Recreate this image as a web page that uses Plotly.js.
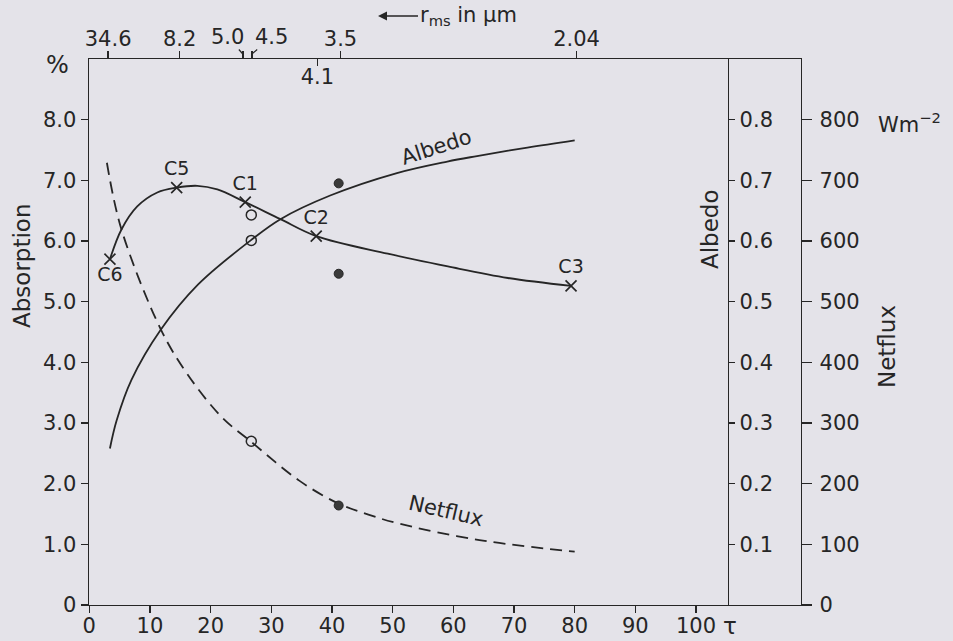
<!DOCTYPE html>
<html>
<head>
<meta charset="utf-8">
<script src="https://cdn.plot.ly/plotly-3.0.1.min.js"></script>
<style>
  html, body { margin: 0; padding: 0; background: #e4e3e9; }
  #chart { width: 953px; height: 641px; }
</style>
</head>
<body>
<div id="chart"></div>
<script>
// ---- data ----
// Absorption (%) curve vs optical depth tau
const absTau = [3.4, 5.3, 7.9, 11.2, 14.4, 17.8, 21.1, 25.7, 31.5, 37.4, 49.2, 59.1, 69.0, 79.4];
const absVal = [5.70, 6.19, 6.57, 6.80, 6.88, 6.91, 6.85, 6.64, 6.36, 6.08, 5.79, 5.58, 5.39, 5.26];
// Named cases on the absorption curve
const caseNames = ["C6", "C5", "C1", "C2", "C3"];
const caseTau = [3.4, 14.4, 25.7, 37.4, 79.4];
const caseAbs = [5.70, 6.88, 6.64, 6.08, 5.26];
const caseTextPos = ["bottom center", "top center", "top center", "top center", "top center"];
// Albedo curve
const albTau = [3.4, 4.5, 6.95, 11.8, 17.9, 26.6, 31.5, 39.7, 50.7, 59.0, 63.9, 72.2, 80.0];
const albVal = [0.258, 0.304, 0.371, 0.454, 0.528, 0.601, 0.636, 0.675, 0.712, 0.731, 0.740, 0.754, 0.766];
// Netflux curve (W m^-2)
const netTau = [2.9, 5.3, 11.8, 16.2, 21.8, 26.8, 34.6, 40.9, 46.0, 51.1, 64.3, 80.0];
const netVal = [729, 619, 454, 380, 310, 268, 205, 168, 149, 134, 107, 88];
// Extra computed points: open circles (r_ms 4.5) and filled dots (r_ms 3.5)
const openTau = 26.7;
const openAbs = 6.43, openAlb = 0.601, openNet = 270;
const fillTau = 41.1;
const fillAbs = 5.46, fillAlb = 0.695, fillNet = 164;
// Axis ticks
const tauTicks = [0, 10, 20, 30, 40, 50, 60, 70, 80, 90, 100];
const absTicks = [0, 1, 2, 3, 4, 5, 6, 7, 8];
const absTickText = ["0", "1.0", "2.0", "3.0", "4.0", "5.0", "6.0", "7.0", "8.0"];
const albTicks = [0.1, 0.2, 0.3, 0.4, 0.5, 0.6, 0.7, 0.8];
const albTickText = ["0.1", "0.2", "0.3", "0.4", "0.5", "0.6", "0.7", "0.8"];
const netTicks = [0, 100, 200, 300, 400, 500, 600, 700, 800];
// Top axis: r_ms (µm) marked at tau positions
const rTickTau = [3.1, 14.9, 25.3, 26.8, 41.4, 80.3];
const rLabelTau = [3.1, 14.9, 41.4, 80.3];
const rLabelText = ["34.6", "8.2", "3.5", "2.04"];
const rInnerTau = [37.6];
const rInnerText = ["4.1"];
const rOffsetLabels = ["5.0", "4.5"];
const rOffsetTickTau = [25.3, 26.8];

// ---- styling ----
const INK = "#262626";
const BG = "#e4e3e9";
const FONT = "DejaVu Sans, Liberation Sans, sans-serif";

const openMarker = { symbol: "circle-open", size: 10, color: INK, line: { width: 1.5, color: INK } };
const fillMarker = { symbol: "circle", size: 9, color: "#3a3a3a", line: { width: 1, color: INK } };

const traces = [
  { x: absTau, y: absVal, mode: "lines", line: { color: INK, width: 1.8, shape: "spline" },
    xaxis: "x", yaxis: "y", hoverinfo: "skip" },
  { x: albTau, y: albVal, mode: "lines", line: { color: INK, width: 1.8, shape: "spline" },
    xaxis: "x", yaxis: "y2", hoverinfo: "skip" },
  { x: netTau, y: netVal, mode: "lines", line: { color: INK, width: 1.8, shape: "spline", dash: "12px,7px" },
    xaxis: "x", yaxis: "y3", hoverinfo: "skip" },
  { x: caseTau, y: caseAbs, mode: "markers+text", text: caseNames, textposition: caseTextPos,
    textfont: { family: FONT, size: 19, color: INK },
    marker: { symbol: "x-thin-open", size: 11, color: INK, line: { color: INK, width: 1.7 } },
    xaxis: "x", yaxis: "y", cliponaxis: false },
  { x: [openTau], y: [openAbs], mode: "markers", marker: openMarker, xaxis: "x", yaxis: "y" },
  { x: [openTau], y: [openAlb], mode: "markers", marker: openMarker, xaxis: "x", yaxis: "y2" },
  { x: [openTau], y: [openNet], mode: "markers", marker: openMarker, xaxis: "x", yaxis: "y3" },
  { x: [fillTau], y: [fillAbs], mode: "markers", marker: fillMarker, xaxis: "x", yaxis: "y" },
  { x: [fillTau], y: [fillAlb], mode: "markers", marker: fillMarker, xaxis: "x", yaxis: "y2" },
  { x: [fillTau], y: [fillNet], mode: "markers", marker: fillMarker, xaxis: "x", yaxis: "y3" }
];

const tfont = { family: FONT, size: 21, color: INK };
const common = { showgrid: false, zeroline: false, showline: true, linecolor: INK, linewidth: 1.4,
  tickcolor: INK, tickwidth: 1.4, tickfont: tfont, fixedrange: true };

const XR = [-0.05, 117.3];
const px2paperX = p => (p - 89) / 712;
const px2paperY = p => (605 - p) / 546;

const annotations = [
  { text: "Absorption", xref: "paper", yref: "paper", x: px2paperX(22), y: px2paperY(266), textangle: -90,
    xanchor: "center", yanchor: "middle", showarrow: false, font: { family: FONT, size: 23, color: INK } },
  { text: "%", xref: "paper", yref: "paper", x: px2paperX(57), y: px2paperY(65),
    xanchor: "center", yanchor: "middle", showarrow: false, font: { family: FONT, size: 24, color: INK } },
  { text: "Albedo", xref: "paper", yref: "paper", x: px2paperX(710), y: px2paperY(229), textangle: -90,
    xanchor: "center", yanchor: "middle", showarrow: false, font: { family: FONT, size: 23, color: INK } },
  { text: "Netflux", xref: "paper", yref: "paper", x: px2paperX(887), y: px2paperY(347), textangle: -90,
    xanchor: "center", yanchor: "middle", showarrow: false, font: { family: FONT, size: 23, color: INK } },
  { text: "Wm<sup>−2</sup>", xref: "paper", yref: "y3", x: px2paperX(876), y: 800, xanchor: "left", yanchor: "middle",
    yshift: -3, showarrow: false, font: { family: FONT, size: 21, color: INK } },
  // r_ms label with a leftward arrow
  { text: "r<sub>ms</sub> in µm", xref: "paper", yref: "paper", x: px2paperX(378), y: px2paperY(16),
    ax: 90, ay: 0, showarrow: true, arrowhead: 2, arrowsize: 1.2, arrowwidth: 1.5, arrowcolor: INK,
    standoff: 0, font: { family: FONT, size: 21, color: INK } },
  { text: "τ", xref: "x", yref: "paper", x: 105.6, y: px2paperY(626), xanchor: "center", yanchor: "middle",
    showarrow: false, font: { family: FONT, size: 23, color: INK } },
  { text: "Albedo", xref: "x", yref: "y", x: 57.3, y: 7.55, textangle: -18, xanchor: "center", yanchor: "middle",
    showarrow: false, font: { family: FONT, size: 21, color: INK } },
  { text: "Netflux", xref: "x", yref: "y", x: 58.8, y: 1.55, textangle: 13, xanchor: "center", yanchor: "middle",
    showarrow: false, font: { family: FONT, size: 21, color: INK } }
];
// r_ms labels that sit beside their ticks, joined by short leader lines
const offsetAx = [-15, 20];
for (let i = 0; i < rOffsetLabels.length; i++) {
  annotations.push({ text: rOffsetLabels[i], xref: "x", yref: "paper", x: rOffsetTickTau[i], y: 1, yshift: 5,
    ax: offsetAx[i], ay: -17, showarrow: true, arrowhead: 0, arrowwidth: 1.2, arrowcolor: INK, standoff: 0,
    borderpad: 0, font: { family: FONT, size: 21, color: INK } });
}

const layout = {
  width: 953, height: 641,
  margin: { l: 89, r: 152, t: 59, b: 36, pad: 0 },
  paper_bgcolor: BG, plot_bgcolor: BG,
  showlegend: false,
  font: { family: FONT, color: INK },
  xaxis: Object.assign({}, common, { range: XR, tickvals: tauTicks, ticks: "outside", ticklen: 7,
    showticklabels: false, anchor: "y", side: "bottom" }),
  xaxis4: Object.assign({}, common, { range: XR, tickvals: tauTicks, ticks: "", showline: false,
    ticklabelstandoff: 6, overlaying: "x", side: "bottom", anchor: "y" }),
  xaxis2: Object.assign({}, common, { range: XR, tickvals: rTickTau, ticks: "outside", ticklen: 7,
    showticklabels: false, overlaying: "x", side: "top", anchor: "y" }),
  xaxis5: Object.assign({}, common, { range: XR, tickvals: rLabelTau, ticktext: rLabelText, ticks: "",
    showline: false, ticklabelstandoff: 8, overlaying: "x", side: "top", anchor: "y" }),
  xaxis3: Object.assign({}, common, { range: XR, tickvals: rInnerTau, ticktext: rInnerText, ticks: "inside",
    ticklen: 7, ticklabelposition: "inside", ticklabelstandoff: 5, overlaying: "x", side: "top", anchor: "y",
    showline: false }),
  yaxis: Object.assign({}, common, { range: [0, 9], tickvals: absTicks, ticktext: absTickText, ticks: "outside",
    ticklen: 7, anchor: "x" }),
  yaxis2: Object.assign({}, common, { range: [0, 0.9], tickvals: albTicks, ticktext: albTickText, ticks: "outside",
    ticklen: 6, overlaying: "y", side: "right", anchor: "free", position: px2paperX(728) }),
  yaxis3: Object.assign({}, common, { range: [0, 900], tickvals: netTicks, ticks: "outside",
    ticklen: 10, ticklabelstandoff: 3, overlaying: "y", side: "right", anchor: "x" }),
  annotations: annotations
};

["x2", "x3", "x4", "x5"].forEach(ax => {
  traces.push({ x: [50], y: [0], mode: "markers", marker: { opacity: 0 }, xaxis: ax, yaxis: "y", hoverinfo: "skip" });
});

Plotly.newPlot("chart", traces, layout, { displayModeBar: false, staticPlot: true });
</script>
</body>
</html>
